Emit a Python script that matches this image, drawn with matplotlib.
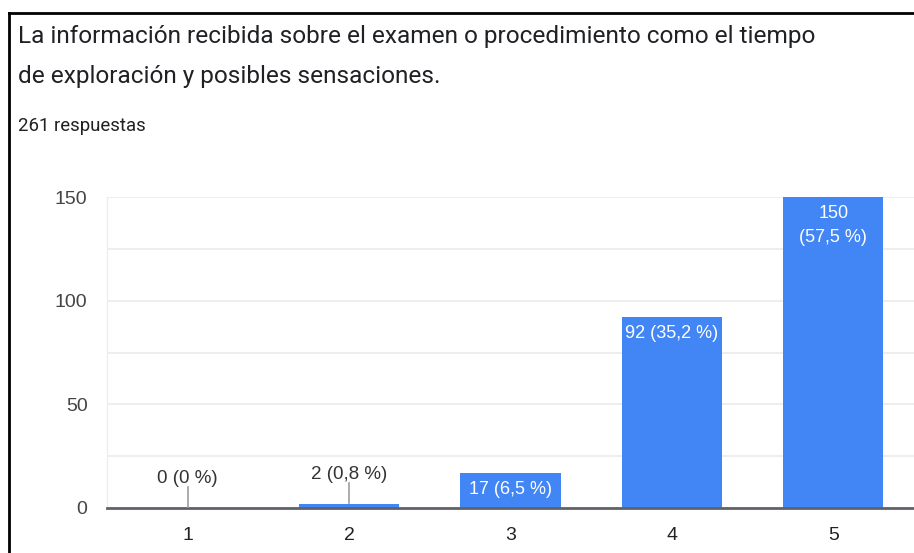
import matplotlib.pyplot as plt
from matplotlib.lines import Line2D
from matplotlib.ticker import MultipleLocator

title_lines = [
    "La información recibida sobre el examen o procedimiento como el tiempo",
    "de exploración y posibles sensaciones.",
]
subtitle = "261 respuestas"
categories = ["1", "2", "3", "4", "5"]
counts = [0, 2, 17, 92, 150]
labels = ["0 (0 %)", "2 (0,8 %)", "17 (6,5 %)", "92 (35,2 %)", "150\n(57,5 %)"]

BLUE = "#4285f4"
W, H = 914, 553

fig = plt.figure(figsize=(W / 100, H / 100), dpi=100)
ax = fig.add_axes([107 / W, 1 - 508 / H, 1 - 107 / W, (508 - 197) / H])

x = range(len(categories))
ax.bar(x, counts, width=0.62, color=BLUE, zorder=2)

ax.set_xlim(-0.5, 4.5)
ax.set_ylim(0, 150)
ax.yaxis.set_major_locator(MultipleLocator(50))
ax.yaxis.set_minor_locator(MultipleLocator(25))
ax.grid(axis="y", which="both", color="#ebebeb", linewidth=1.2, zorder=0)
ax.set_axisbelow(True)

for side in ["top", "right"]:
    ax.spines[side].set_visible(False)
ax.spines["left"].set_color("#ebebeb")
ax.spines["bottom"].set_color("#5f6368")
ax.spines["bottom"].set_linewidth(2)
ax.spines["bottom"].set_zorder(3)

ax.set_xticks(list(x))
ax.set_xticklabels(categories, family="Liberation Sans", fontsize=14, color="#222222")
ax.tick_params(axis="x", length=0, pad=14)
ax.tick_params(axis="y", which="both", length=0, pad=14, labelsize=14, labelcolor="#444444")
for t in ax.get_yticklabels():
    t.set_family("Liberation Sans")

px = 150 / (508 - 197)  # data units per pixel
for i, (v, lab) in enumerate(zip(counts, labels)):
    if v < 10:
        ax.plot([i, i], [v + 1 * px, 21 * px + v], color="#9e9e9e", linewidth=1.2, zorder=4)
        ax.text(i, v + 21 * px, lab, ha="center", va="bottom", fontsize=13.5,
                family="Liberation Sans", color="#333333")
    else:
        ax.text(i, v - 8 * px, lab, ha="center", va="top", fontsize=13,
                family="Liberation Sans", color="white", linespacing=1.55)

fig.text(18 / W, 1 - 43 / H, title_lines[0], fontsize=17.6, family="Roboto", color="#202124")
fig.text(18 / W, 1 - 83 / H, title_lines[1], fontsize=17.6, family="Roboto", color="#202124")
fig.text(18 / W, 1 - 131 / H, subtitle, fontsize=13.4, family="Roboto", color="#202124")

fig.add_artist(Line2D([9 / W, 1], [1 - 13 / H, 1 - 13 / H], color="black", linewidth=2))
fig.add_artist(Line2D([9 / W, 9 / W], [0, 1 - 13 / H], color="black", linewidth=2))

fig.savefig("out.png", dpi=100)
